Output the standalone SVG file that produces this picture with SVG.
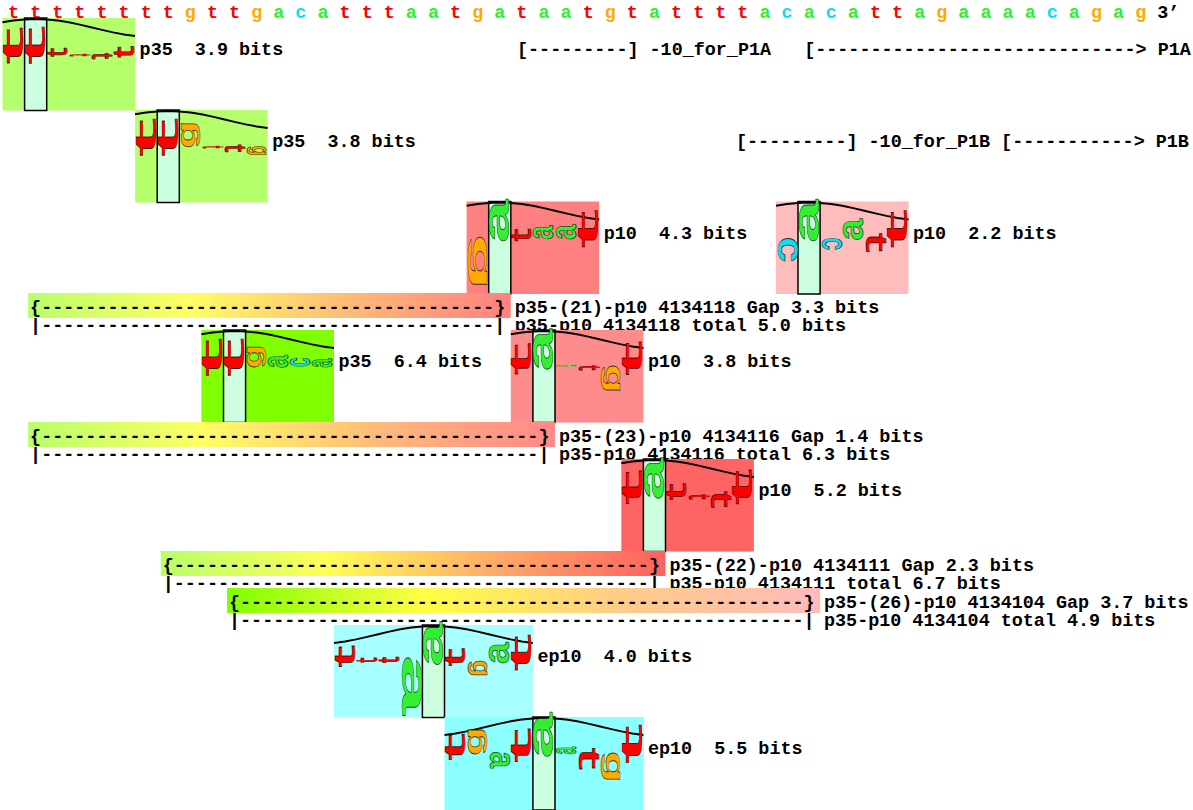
<svg xmlns="http://www.w3.org/2000/svg" xmlns:xlink="http://www.w3.org/1999/xlink" width="1193" height="810" viewBox="0 0 1193 810">
<style>
.lbl{font-family:"Liberation Mono","DejaVu Sans Mono",monospace;font-size:18.42px;font-weight:bold;fill:#000}
.gl{font-family:"Liberation Mono","DejaVu Sans Mono",monospace;font-size:20px;font-weight:bold;stroke:#000;stroke-opacity:.75;stroke-width:.7;vector-effect:non-scaling-stroke}
.ft{fill:#ff0000}.fa{fill:#33ee33}.fc{fill:#11ddee}.fg{fill:#ffaa00}
.col{fill:#ccffe0;stroke:#000;stroke-width:1.5}
.wave{fill:none;stroke:#000;stroke-width:2;stroke-linejoin:round}
</style>
<defs>
<text id="Pt" class="gl ft" text-anchor="middle" transform="scale(1.481,1.413) rotate(-90) translate(-1.2,6.45)">t</text>
<text id="Nt" class="gl ft" text-anchor="middle" transform="scale(1.481,1.413) rotate(90) translate(-1.2,6.45)">t</text>
<text id="Pa" class="gl fa" text-anchor="middle" transform="scale(1.802,1.174) rotate(-90) translate(0,5.25)">a</text>
<text id="Na" class="gl fa" text-anchor="middle" transform="scale(1.802,1.174) rotate(90) translate(0,5.25)">a</text>
<text id="Pc" class="gl fc" text-anchor="middle" transform="scale(1.802,0.966) rotate(-90) translate(0,5.25)">c</text>
<text id="Nc" class="gl fc" text-anchor="middle" transform="scale(1.802,0.966) rotate(90) translate(0,5.25)">c</text>
<text id="Pg" class="gl fg" text-anchor="middle" transform="scale(1.316,1.087) rotate(-90) translate(0,3.2)">g</text>
<text id="Ng" class="gl fg" text-anchor="middle" transform="scale(1.316,1.087) rotate(90) translate(0,3.2)">g</text>
<path id="wS" class="wave" d="M-33.15,4.34 L-22.1,2.54 L-11.05,1.39 L0,1 L11.05,1.39 L22.1,2.54 L33.15,4.34 L44.2,6.63 L55.25,9.22 L66.3,11.87 L77.35,14.36 L88.4,16.47 L99.45,18.02"/>
<path id="wL" class="wave" d="M-99.45,18.02 L-88.4,16.47 L-77.35,14.36 L-66.3,11.87 L-55.25,9.22 L-44.2,6.63 L-33.15,4.34 L-22.1,2.54 L-11.05,1.39 L0,1 L11.05,1.39 L22.1,2.54 L33.15,4.34 L44.2,6.63 L55.25,9.22 L66.3,11.87 L77.35,14.36 L88.4,16.47 L99.45,18.02"/>
<linearGradient id="g1" x1="0" y1="0" x2="1" y2="0"><stop offset="0" stop-color="#b8ff6a"/><stop offset=".33" stop-color="#ffff66"/><stop offset=".66" stop-color="#ffbb77"/><stop offset="1" stop-color="#ff8080"/></linearGradient>
<linearGradient id="g2" x1="0" y1="0" x2="1" y2="0"><stop offset="0" stop-color="#b8ff6a"/><stop offset=".33" stop-color="#ffff66"/><stop offset=".66" stop-color="#ffbb7a"/><stop offset="1" stop-color="#ff8888"/></linearGradient>
<linearGradient id="g3" x1="0" y1="0" x2="1" y2="0"><stop offset="0" stop-color="#b8ff6a"/><stop offset=".33" stop-color="#ffff58"/><stop offset=".66" stop-color="#ffaa66"/><stop offset="1" stop-color="#ff6060"/></linearGradient>
<linearGradient id="g4" x1="0" y1="0" x2="1" y2="0"><stop offset="0" stop-color="#80ff00"/><stop offset=".33" stop-color="#ffff44"/><stop offset=".66" stop-color="#ffcc88"/><stop offset="1" stop-color="#ffbbbb"/></linearGradient>
</defs>
<rect width="1193" height="810" fill="#fff"/>

<g id="sequence">
<text class="lbl" y="18" text-anchor="middle"><tspan class="ft" x="13.55">t</tspan><tspan class="ft" x="35.65">t</tspan><tspan class="ft" x="57.75">t</tspan><tspan class="ft" x="79.85">t</tspan><tspan class="ft" x="101.95">t</tspan><tspan class="ft" x="124.05">t</tspan><tspan class="ft" x="146.15">t</tspan><tspan class="ft" x="168.25">t</tspan><tspan class="fg" x="190.35">g</tspan><tspan class="ft" x="212.45">t</tspan><tspan class="ft" x="234.55">t</tspan><tspan class="fg" x="256.65">g</tspan><tspan class="fa" x="278.75">a</tspan><tspan class="fc" x="300.85">c</tspan><tspan class="fa" x="322.95">a</tspan><tspan class="ft" x="345.05">t</tspan><tspan class="ft" x="367.15">t</tspan><tspan class="ft" x="389.25">t</tspan><tspan class="fa" x="411.35">a</tspan><tspan class="fa" x="433.45">a</tspan><tspan class="ft" x="455.55">t</tspan><tspan class="fg" x="477.65">g</tspan><tspan class="fa" x="499.75">a</tspan><tspan class="ft" x="521.85">t</tspan><tspan class="fa" x="543.95">a</tspan><tspan class="fa" x="566.05">a</tspan><tspan class="ft" x="588.15">t</tspan><tspan class="fg" x="610.25">g</tspan><tspan class="ft" x="632.35">t</tspan><tspan class="fa" x="654.45">a</tspan><tspan class="ft" x="676.55">t</tspan><tspan class="ft" x="698.65">t</tspan><tspan class="ft" x="720.75">t</tspan><tspan class="ft" x="742.85">t</tspan><tspan class="fa" x="764.95">a</tspan><tspan class="fc" x="787.05">c</tspan><tspan class="fa" x="809.15">a</tspan><tspan class="fc" x="831.25">c</tspan><tspan class="fa" x="853.35">a</tspan><tspan class="ft" x="875.45">t</tspan><tspan class="ft" x="897.55">t</tspan><tspan class="fa" x="919.65">a</tspan><tspan class="fg" x="941.75">g</tspan><tspan class="fa" x="963.85">a</tspan><tspan class="fa" x="985.95">a</tspan><tspan class="fa" x="1008.05">a</tspan><tspan class="fa" x="1030.15">a</tspan><tspan class="fc" x="1052.25">c</tspan><tspan class="fa" x="1074.35">a</tspan><tspan class="fg" x="1096.45">g</tspan><tspan class="fa" x="1118.55">a</tspan><tspan class="fg" x="1140.65">g</tspan></text>
<text class="lbl" x="1157.2" y="18">3’</text>
</g>

<g id="annot_P1A"><text class="lbl" x="517" y="55" xml:space="preserve">[---------] -10_for_P1A   [-----------------------------&gt; P1A</text></g>
<g id="annot_P1B"><text class="lbl" x="736" y="147" xml:space="preserve">[---------] -10_for_P1B [-----------&gt; P1B</text></g>

<g id="w1_p35">
<rect x="2.5" y="18" width="132.6" height="92.5" fill="#b6ff6c"/>
<rect class="col" x="24.6" y="18" width="22.1" height="92.5"/>
<use href="#wS" transform="translate(35.65,18)"/>
<use href="#Pt" transform="translate(13.55,40) scale(1,2.9)"/>
<use href="#Pt" transform="translate(35.65,39.5) scale(1,3)"/>
<use href="#Pt" transform="translate(57.75,51) scale(1,0.7)"/>
<use href="#Nt" transform="translate(79.85,55.5) scale(1,0.2)"/>
<use href="#Nt" transform="translate(101.95,57) scale(1,0.5)"/>
<use href="#Pt" transform="translate(124.05,50) scale(1,0.9)"/>
<text class="lbl" x="139.6" y="55" xml:space="preserve">p35  3.9 bits</text>
</g>

<g id="w2_p35">
<rect x="135.1" y="110" width="132.6" height="92.5" fill="#b6ff6c"/>
<rect class="col" x="157.2" y="110" width="22.1" height="92.5"/>
<use href="#wS" transform="translate(168.25,110)"/>
<use href="#Pt" transform="translate(146.15,131.5) scale(1,3)"/>
<use href="#Pt" transform="translate(168.25,131.5) scale(1,3)"/>
<use href="#Pg" transform="translate(190.35,135.5) scale(1,2.2)"/>
<use href="#Nt" transform="translate(212.45,147.5) scale(1,0.2)"/>
<use href="#Nt" transform="translate(234.55,149.5) scale(1,0.6)"/>
<use href="#Ng" transform="translate(256.65,150.5) scale(1,0.8)"/>
<text class="lbl" x="272.2" y="147" xml:space="preserve">p35  3.8 bits</text>
</g>

<g id="w3_p10">
<rect x="466.6" y="201.5" width="132.6" height="92.5" fill="#ff8080"/>
<rect class="col" x="488.7" y="201.5" width="22.1" height="92.5"/>
<use href="#wS" transform="translate(499.75,201.5)"/>
<use href="#Ng" transform="translate(477.65,260.5) scale(1,4.5)"/>
<use href="#Pa" transform="translate(499.75,221) scale(1,3.4)"/>
<use href="#Pt" transform="translate(521.85,233) scale(1,1)"/>
<use href="#Pa" transform="translate(543.95,232.5) scale(1,1.1)"/>
<use href="#Pa" transform="translate(566.05,232) scale(1,1.2)"/>
<use href="#Pt" transform="translate(588.15,223) scale(1,3)"/>
<text class="lbl" x="603.7" y="238.5" xml:space="preserve">p10  4.3 bits</text>
</g>

<g id="w4_p10">
<rect x="775.9" y="201.5" width="132.6" height="92.5" fill="#ffbcbc"/>
<rect class="col" x="798" y="201.5" width="22.1" height="92.5"/>
<use href="#wS" transform="translate(809.15,201.5)"/>
<use href="#Nc" transform="translate(787.05,250) scale(1,2.4)"/>
<use href="#Pa" transform="translate(809.15,221) scale(1,3.4)"/>
<use href="#Nc" transform="translate(831.25,244) scale(1,1.2)"/>
<use href="#Pa" transform="translate(853.35,229.5) scale(1,1.7)"/>
<use href="#Nt" transform="translate(875.45,245.5) scale(1,1.5)"/>
<use href="#Pt" transform="translate(897.55,223) scale(1,3)"/>
<text class="lbl" x="913" y="238.5" xml:space="preserve">p10  2.2 bits</text>
</g>

<g id="bar1_p35_21_p10">
<rect x="28.15" y="293" width="482.6" height="25" fill="url(#g1)"/>
<text class="lbl" x="30.1" y="313" textLength="475.2" lengthAdjust="spacing">{-----------------------------------------}</text>
<text class="lbl" x="30.1" y="331" textLength="475.2" lengthAdjust="spacing">|-----------------------------------------|</text>
<text class="lbl" x="514.75" y="313">p35-(21)-p10 4134118 Gap 3.3 bits</text>
<text class="lbl" x="514.75" y="331">p35-p10 4134118 total 5.0 bits</text>
</g>

<g id="w5_p35">
<rect x="201.4" y="330" width="132.6" height="92.5" fill="#80ff00"/>
<rect class="col" x="223.5" y="330" width="22.1" height="92.5"/>
<use href="#wS" transform="translate(234.55,330)"/>
<use href="#Pt" transform="translate(212.45,351.5) scale(1,3)"/>
<use href="#Pt" transform="translate(234.55,351.5) scale(1,3)"/>
<use href="#Pg" transform="translate(256.65,357) scale(1,1.9)"/>
<use href="#Pa" transform="translate(278.75,361.5) scale(1,1)"/>
<use href="#Pc" transform="translate(300.85,362) scale(1,0.9)"/>
<use href="#Pa" transform="translate(322.95,363) scale(1,0.7)"/>
<text class="lbl" x="338.5" y="367" xml:space="preserve">p35  6.4 bits</text>
</g>

<g id="w6_p10">
<rect x="510.8" y="330" width="132.6" height="92.5" fill="#ff8c8c"/>
<rect class="col" x="532.9" y="330" width="22.1" height="92.5"/>
<use href="#wS" transform="translate(543.95,330)"/>
<use href="#Pt" transform="translate(521.85,354) scale(1,2.5)"/>
<use href="#Pa" transform="translate(543.95,350) scale(1,3.3)"/>
<use href="#Pa" transform="translate(566.05,365.75) scale(1,0.15)"/>
<use href="#Nt" transform="translate(588.15,368.5) scale(1,0.4)"/>
<use href="#Ng" transform="translate(610.25,378) scale(1,2.3)"/>
<use href="#Pt" transform="translate(632.35,353) scale(1,2.7)"/>
<text class="lbl" x="647.9" y="367" xml:space="preserve">p10  3.8 bits</text>
</g>

<g id="bar2_p35_23_p10">
<rect x="28.15" y="422" width="526.8" height="25" fill="url(#g2)"/>
<text class="lbl" x="30.1" y="442" textLength="519.35" lengthAdjust="spacing">{---------------------------------------------}</text>
<text class="lbl" x="30.1" y="460" textLength="519.35" lengthAdjust="spacing">|---------------------------------------------|</text>
<text class="lbl" x="559" y="442">p35-(23)-p10 4134116 Gap 1.4 bits</text>
<text class="lbl" x="559" y="460">p35-p10 4134116 total 6.3 bits</text>
</g>

<g id="w7_p10">
<rect x="621.3" y="459" width="132.6" height="92.5" fill="#ff6464"/>
<rect class="col" x="643.4" y="459" width="22.1" height="92.5"/>
<use href="#wS" transform="translate(654.45,459)"/>
<use href="#Pt" transform="translate(632.35,482) scale(1,2.7)"/>
<use href="#Pa" transform="translate(654.45,479) scale(1,3.3)"/>
<use href="#Pt" transform="translate(676.55,489) scale(1,1.3)"/>
<use href="#Nt" transform="translate(698.65,497.5) scale(1,0.4)"/>
<use href="#Nt" transform="translate(720.75,502) scale(1,1.3)"/>
<use href="#Pt" transform="translate(742.85,481.5) scale(1,2.8)"/>
<text class="lbl" x="758.4" y="496" xml:space="preserve">p10  5.2 bits</text>
</g>

<g id="bar3_p35_22_p10">
<rect x="160.75" y="551" width="504.7" height="25" fill="url(#g3)"/>
<text class="lbl" x="162.7" y="571" textLength="497.25" lengthAdjust="spacing">{-------------------------------------------}</text>
<text class="lbl" x="162.7" y="589" textLength="497.25" lengthAdjust="spacing">|-------------------------------------------|</text>
<text class="lbl" x="669.5" y="571">p35-(22)-p10 4134111 Gap 2.3 bits</text>
<text class="lbl" x="669.5" y="589">p35-p10 4134111 total 6.7 bits</text>
</g>

<g id="bar4_p35_26_p10">
<rect x="227.05" y="588" width="593.1" height="25" fill="url(#g4)"/>
<text class="lbl" x="229" y="608" textLength="585.65" lengthAdjust="spacing">{---------------------------------------------------}</text>
<text class="lbl" x="229" y="626" textLength="585.65" lengthAdjust="spacing">|---------------------------------------------------|</text>
<text class="lbl" x="824" y="608">p35-(26)-p10 4134104 Gap 3.7 bits</text>
<text class="lbl" x="824" y="626">p35-p10 4134104 total 4.9 bits</text>
</g>

<g id="w8_ep10">
<rect x="334" y="625" width="198.9" height="92.5" fill="#a8ffff"/>
<rect class="col" x="422.4" y="625" width="22.1" height="92.5"/>
<use href="#wL" transform="translate(433.45,625)"/>
<use href="#Pt" transform="translate(345.05,653) scale(1,1.7)"/>
<use href="#Pt" transform="translate(367.15,659.5) scale(1,0.4)"/>
<use href="#Pt" transform="translate(389.25,659) scale(1,0.5)"/>
<use href="#Na" transform="translate(411.35,685) scale(1,4.7)"/>
<use href="#Pa" transform="translate(433.45,644) scale(1,3.5)"/>
<use href="#Pt" transform="translate(455.55,654.5) scale(1,1.4)"/>
<use href="#Ng" transform="translate(477.65,668) scale(1,1.3)"/>
<use href="#Pa" transform="translate(499.75,653) scale(1,1.7)"/>
<use href="#Pt" transform="translate(521.85,647) scale(1,2.9)"/>
<text class="lbl" x="537.4" y="662" xml:space="preserve">ep10  4.0 bits</text>
</g>

<g id="w9_ep10">
<rect x="444.5" y="717" width="198.9" height="93" fill="#8cffff"/>
<rect class="col" x="532.9" y="717" width="22.1" height="93"/>
<use href="#wL" transform="translate(543.95,717)"/>
<use href="#Pt" transform="translate(455.55,743) scale(1,2.1)"/>
<use href="#Pg" transform="translate(477.65,742) scale(1,2.3)"/>
<use href="#Na" transform="translate(499.75,760) scale(1,1.3)"/>
<use href="#Pt" transform="translate(521.85,740) scale(1,2.7)"/>
<use href="#Pa" transform="translate(543.95,735.5) scale(1,3.6)"/>
<use href="#Pa" transform="translate(566.05,750.5) scale(1,0.6)"/>
<use href="#Nt" transform="translate(588.15,762) scale(1,1.7)"/>
<use href="#Ng" transform="translate(610.25,766) scale(1,2.5)"/>
<use href="#Pt" transform="translate(632.35,738) scale(1,3.1)"/>
<text class="lbl" x="647.9" y="754" xml:space="preserve">ep10  5.5 bits</text>
</g>
</svg>
